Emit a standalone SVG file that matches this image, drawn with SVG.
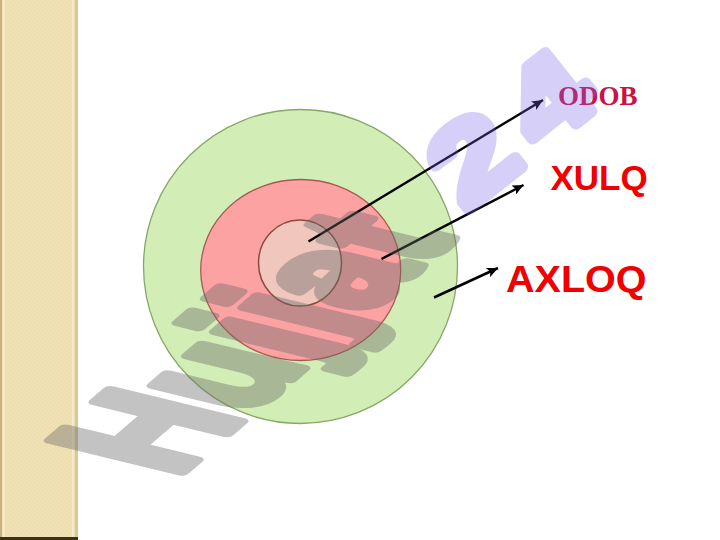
<svg xmlns="http://www.w3.org/2000/svg" width="720" height="540" viewBox="0 0 720 540">
<style>
.lbl{font-family:"Liberation Sans",Arial,sans-serif;font-weight:bold;fill:#f00000}
.ser{font-family:"Liberation Serif","Times New Roman",serif;font-weight:bold;fill:#cc1144}
.arr{stroke:#000;stroke-width:2.5;fill:none;marker-end:url(#ah)}
.wm{font-family:"Liberation Sans",Arial,sans-serif;font-weight:bold;font-size:100px;stroke-linejoin:round}
</style>
<defs>
<marker id="ah" markerUnits="userSpaceOnUse" markerWidth="12" markerHeight="10" refX="11" refY="5" orient="auto">
<path d="M0,0 L11,5 L0,10 L2.5,5 Z" fill="#000"/>
</marker>
<pattern id="hatch" width="4" height="4" patternUnits="userSpaceOnUse">
<rect width="4" height="4" fill="#eedfb3"/>
<path d="M0,4 L4,0" stroke="#f3e7c4" stroke-width="0.6"/>
</pattern>
</defs>
<rect width="720" height="540" fill="#ffffff"/>
<g id="sidebar">
<rect x="0" y="0" width="78" height="540" fill="url(#hatch)"/>
<rect x="0" y="0" width="2" height="540" fill="#c9b184"/>
<rect x="3" y="0" width="1.5" height="540" fill="#f7eed6"/>
<rect x="72" y="0" width="1.5" height="540" fill="#f5ebcf"/>
<rect x="75" y="0" width="3" height="540" fill="#d9c79c"/>
<rect x="0" y="537" width="78" height="3" fill="#3a3020"/>
</g>
<g id="outer">
<circle cx="300.5" cy="266.5" r="157" fill="#d2edb5" stroke="#86a866" stroke-width="1.3"/>
</g>
<g id="middle">
<ellipse cx="300.7" cy="270" rx="100" ry="90.5" fill="#fca2a2" stroke="#a85a52" stroke-width="1.3"/>
</g>
<g id="inner">
<ellipse cx="300" cy="263" rx="41.5" ry="43" fill="#f0c6bd" stroke="#8a4a3e" stroke-width="1.5"/>
</g>
<g id="connectors">
<line class="arr" x1="308.5" y1="241.5" x2="543" y2="100"/>
<line class="arr" x1="381.5" y1="259" x2="523.5" y2="185"/>
<line class="arr" x1="434" y1="297.5" x2="498" y2="268"/>
</g>
<g id="labels">
<text class="ser" x="558" y="105" font-size="27">ODOB</text>
<text class="lbl" x="550.5" y="189.5" font-size="35">XULQ</text>
<text class="lbl" x="506" y="292" font-size="37" textLength="140.5" lengthAdjust="spacingAndGlyphs">AXLOQ</text>
</g>
<g id="watermark">
<g opacity="0.4">
<text class="wm" transform="matrix(1.01,-0.867,1.90,0.461,175,478)" x="0" y="0" fill="#6a6a6a" stroke="#6a6a6a" stroke-width="7">Hujjat</text>
</g>
<g opacity="0.3">
<text class="wm" transform="matrix(1.08,-0.86,0.68,0.86,466,212)" x="0 70" y="0" fill="#7b68ee" stroke="#7b68ee" stroke-width="10">24</text>
</g>
</g>
</svg>
